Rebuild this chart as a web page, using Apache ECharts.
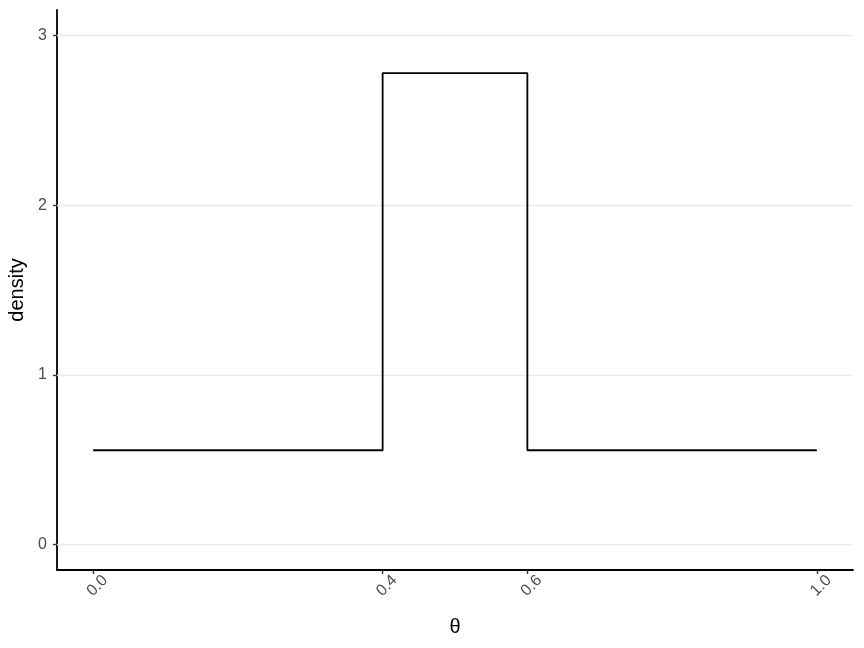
<!DOCTYPE html>
<html><head><meta charset="utf-8">
<script src="https://cdn.jsdelivr.net/npm/echarts@6/dist/echarts.min.js"></script>
<style>html,body{margin:0;padding:0;background:#fff}#c{width:864px;height:648px}</style>
</head><body><div id="c"></div>
<script>
const thetaPoints = [0.0, 0.4, 0.4, 0.6, 0.6, 1.0];
const densityValues = [0.5556, 0.5556, 2.7778, 2.7778, 0.5556, 0.5556];
const xTicks = [0.0, 0.4, 0.6, 1.0];
const yTicks = [0, 1, 2, 3];

const chart = echarts.init(document.getElementById('c'), null, {renderer: 'canvas'});
const font = 'Liberation Sans, Arial, sans-serif';
chart.setOption({
  animation: false,
  grid: {left: 57, right: 11, top: 10, bottom: 78, containLabel: false, outerBoundsMode: 'none'},
  xAxis: {
    type: 'value', min: -0.05, max: 1.05,
    name: 'θ', nameLocation: 'middle', nameGap: 47,
    nameTextStyle: {color: '#000', fontSize: 20, fontFamily: font},
    axisLine: {show: true, onZero: false, lineStyle: {color: '#000', width: 1.8}},
    axisTick: {show: true, length: 4, customValues: xTicks, lineStyle: {color: '#333', width: 1.4}},
    axisLabel: {customValues: xTicks, rotate: 45, margin: 20, color: '#4d4d4d', fontSize: 16, fontFamily: font,
      align: 'center', verticalAlign: 'middle', padding: [12, 0, 0, 12],
      formatter: v => v.toFixed(1)},
    splitLine: {show: false}
  },
  yAxis: {
    type: 'value', min: -0.15, max: 3.15,
    name: 'density', nameLocation: 'middle', nameGap: 28, nameRotate: 90,
    nameTextStyle: {color: '#000', fontSize: 20, fontFamily: font},
    axisLine: {show: true, onZero: false, lineStyle: {color: '#000', width: 1.8}},
    axisTick: {show: true, length: 4, customValues: yTicks, lineStyle: {color: '#333', width: 1.4}},
    axisLabel: {customValues: yTicks, margin: 10, color: '#4d4d4d', fontSize: 16, fontFamily: font},
    splitLine: {show: false}
  },
  series: [{
    type: 'line',
    data: thetaPoints.map((x, i) => [x, densityValues[i]]),
    showSymbol: false, symbol: 'none',
    lineStyle: {color: '#000', width: 1.8},
    z: 3,
    markLine: {
      silent: true, symbol: ['none', 'none'], label: {show: false},
      lineStyle: {color: '#ebebeb', width: 1.4, type: 'solid'},
      z: 1,
      data: yTicks.map(v => ({yAxis: v}))
    }
  }]
});
</script></body></html>
